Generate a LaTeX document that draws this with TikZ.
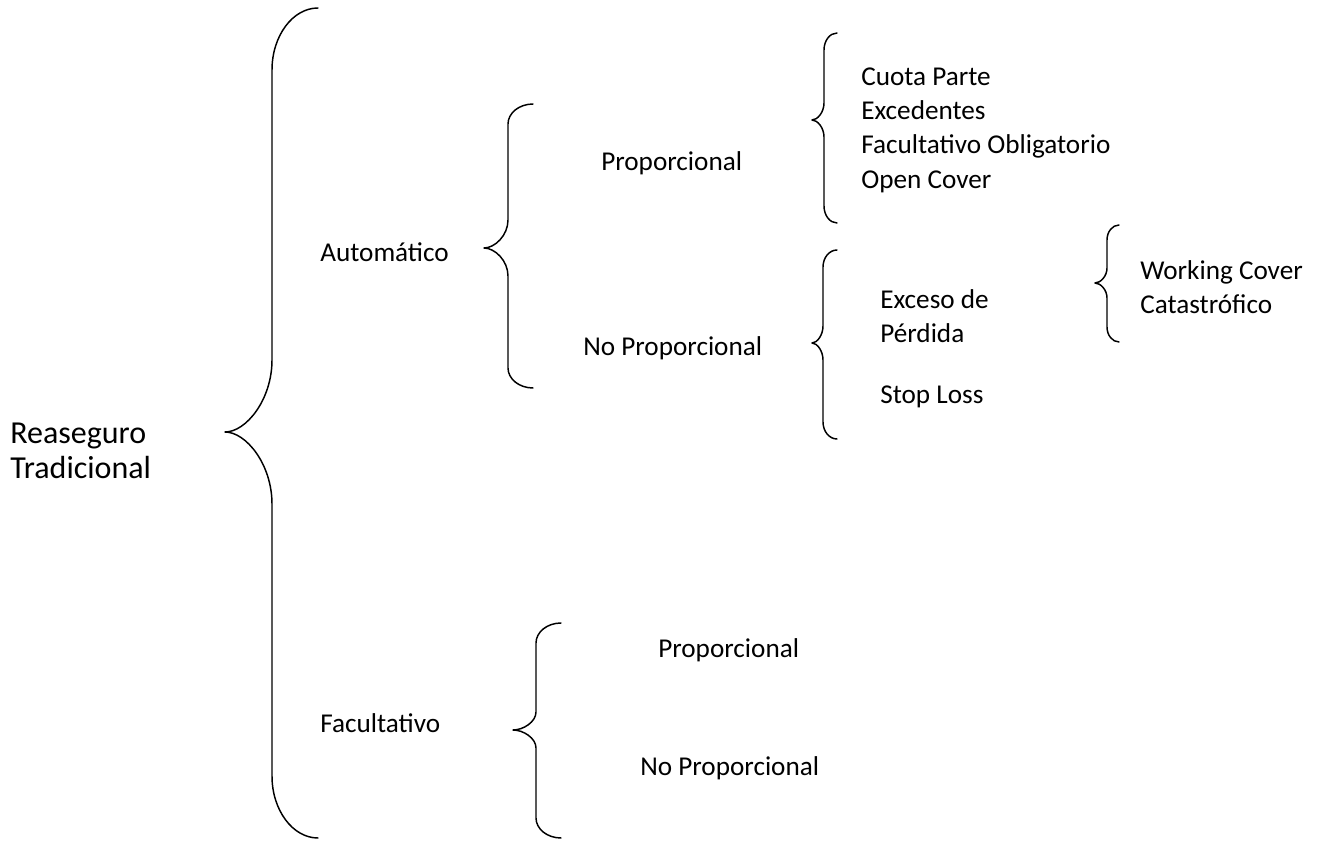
\documentclass[tikz,border=0pt]{standalone}
\usepackage{fontspec}
\setmainfont{Carlito}
\newcommand\mybrace[8]{% ex, vx, tx, top, tip, bot, r1, r2
  \draw[bracestyle] (#1,#4) .. controls ({#2+0.45*(#1-#2)},#4) and (#2,{#4+0.45*#7}) .. (#2,{#4+#7})
    -- (#2,{#5-#8}) .. controls (#2,{#5-0.45*#8}) and ({#3+0.45*(#2-#3)},#5) .. (#3,#5)
    .. controls ({#3+0.45*(#2-#3)},#5) and (#2,{#5+0.45*#8}) .. (#2,{#5+#8})
    -- (#2,{#6-#7}) .. controls (#2,{#6-0.45*#7}) and ({#2+0.45*(#1-#2)},#6) .. (#1,#6);}
\begin{document}
\begin{tikzpicture}[x=0.75pt,y=-0.75pt,
  bracestyle/.style={line width=1.1pt, line cap=round, line join=round},
  lbl/.style={anchor=west, inner sep=0pt, align=left, font=\fontsize{20.4}{25.8}\selectfont},
  big/.style={anchor=west, inner sep=0pt, align=left, font=\fontsize{24}{26.5}\selectfont}]
\useasboundingbox (0,0) rectangle (1321,848);
% braces
\mybrace{318}{272}{225}{8}{432}{838}{62}{72}
\mybrace{533}{508}{484}{104}{248}{388}{20}{28}
\mybrace{837}{824}{812}{33}{120}{223}{17}{17}
\mybrace{837}{823}{812}{250}{343}{439}{17}{17}
\mybrace{1119}{1107}{1095}{225}{283}{342}{15}{15}
\mybrace{561}{536}{513}{623}{730}{838}{20}{18}
% texts
\node[big] (rt) at (10,451) {Reaseguro\\Tradicional};
\node[lbl] (aut) at (320,252) {Automático};
\node[lbl] (fac) at (320,723) {Facultativo};
\node[lbl] (p1) at (601,163) {Proporcional};
\node[lbl] (np1) at (583,348) {No Proporcional};
\node[lbl] (cuota) at (861,130) {Cuota Parte\\Excedentes\\Facultativo Obligatorio\\Open Cover};
\node[lbl] (exc) at (880,316) {Exceso de\\Pérdida};
\node[lbl] (stop) at (880,397) {Stop Loss};
\node[lbl] (wc) at (1140,287) {Working Cover\\Catastrófico};
\node[lbl] (p2) at (658,650) {Proporcional};
\node[lbl] (np2) at (640,768) {No Proporcional};
\end{tikzpicture}
\end{document}
